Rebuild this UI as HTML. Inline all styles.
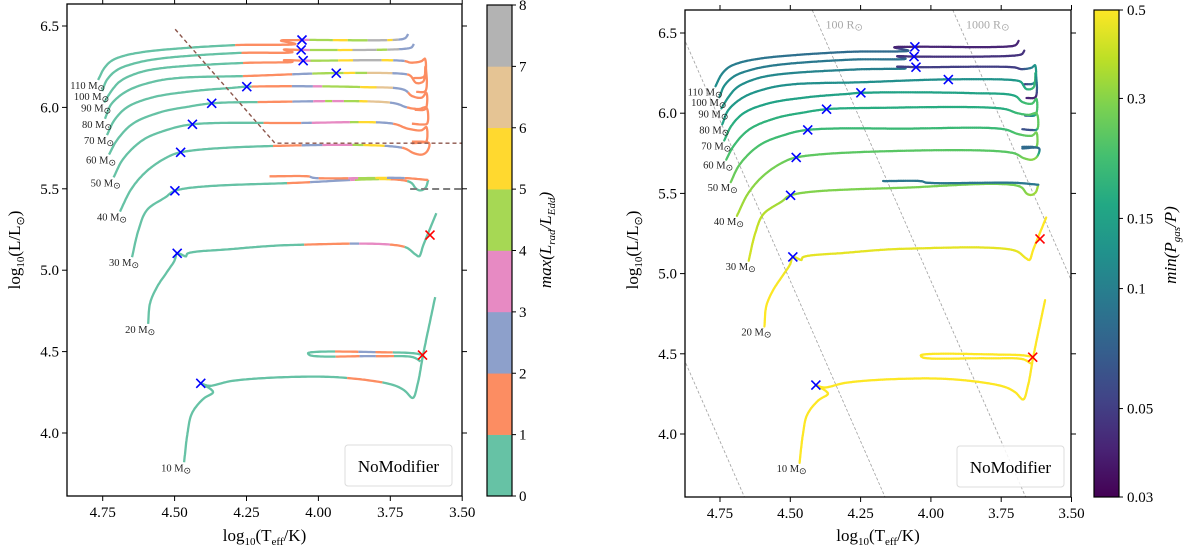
<!DOCTYPE html>
<html><head><meta charset="utf-8"><style>
html,body{margin:0;padding:0;background:#fff;width:1200px;height:552px;overflow:hidden;}
svg{display:block;font-family:"Liberation Serif","DejaVu Serif",serif;}
</style></head><body>
<svg id="fig" width="1200" height="552" viewBox="0 0 1200 552" xmlns="http://www.w3.org/2000/svg">
<defs>
<clipPath id="clipL"><rect x="67" y="4" width="395" height="492"/></clipPath>
<clipPath id="clipR"><rect x="685" y="10" width="386" height="487"/></clipPath>
<linearGradient id="viridisGrad" x1="0" y1="1" x2="0" y2="0"></linearGradient>
</defs>
<g id="left-panel"></g>
<g id="right-panel"></g>
</svg>
<script>
// ---------- data ----------
const masses = [110,100,90,80,70,60,50,40,30,20,10];
const trackM110 = [[4.766,6.168],[4.745,6.24],[4.72,6.285],[4.68,6.315],[4.61,6.34],[4.50,6.36],[4.283,6.383],[4.08,6.39],[4.13,6.41],[4.057,6.414],[3.706,6.42],[3.695,6.43],[3.688,6.451]];
const trackM100 = [[4.752,6.10],[4.735,6.17],[4.70,6.23],[4.64,6.27],[4.55,6.30],[4.283,6.334],[4.09,6.34],[4.12,6.355],[4.06,6.353],[3.70,6.36],[3.675,6.37],[3.668,6.39]];
const trackM90 = [[4.745,6.03],[4.72,6.1],[4.69,6.16],[4.63,6.21],[4.55,6.24],[4.262,6.273],[4.09,6.28],[4.12,6.29],[4.053,6.287],[3.70,6.285],[3.68,6.275],[3.64,6.285],[3.63,6.30],[3.632,6.19],[3.67,6.18]];
const trackM80 = [[4.742,5.93],[4.72,6.02],[4.666,6.10],[4.58,6.155],[4.492,6.18],[4.248,6.193],[3.935,6.211],[3.70,6.205],[3.68,6.195],[3.66,6.15],[3.635,6.16],[3.628,6.25],[3.628,6.10],[3.66,6.095]];
const trackM70 = [[4.735,5.83],[4.71,5.92],[4.666,6.0],[4.58,6.06],[4.436,6.10],[4.30,6.12],[4.249,6.127],[3.855,6.125],[3.70,6.107],[3.675,6.07],[3.64,6.06],[3.625,6.09],[3.628,5.99],[3.665,5.985]];
const trackM60 = [[4.728,5.71],[4.70,5.80],[4.645,5.90],[4.55,5.97],[4.45,6.005],[4.371,6.025],[4.203,6.033],[3.74,6.027],[3.692,6.0],[3.65,5.99],[3.625,6.00],[3.622,5.90],[3.64,5.895],[3.675,5.90]];
const trackM50 = [[4.712,5.57],[4.68,5.68],[4.61,5.80],[4.52,5.865],[4.438,5.896],[4.088,5.904],[3.74,5.90],[3.69,5.87],[3.64,5.86],[3.625,5.88],[3.625,5.79],[3.64,5.79],[3.675,5.79]];
const trackM40 = [[4.69,5.36],[4.65,5.50],[4.596,5.61],[4.53,5.69],[4.479,5.724],[4.158,5.763],[3.706,5.751],[3.67,5.72],[3.64,5.71],[3.622,5.73],[3.615,5.78],[3.675,5.78]];
const trackM30 = [[4.648,5.08],[4.625,5.25],[4.596,5.37],[4.53,5.45],[4.499,5.488],[4.088,5.536],[3.682,5.542],[3.66,5.50],[3.645,5.49],[3.628,5.505],[3.618,5.554]];
const trackM30loop = [[3.618,5.554],[3.70,5.566],[4.02,5.568],[4.03,5.575],[4.17,5.577]];
const trackM20 = [[4.592,4.67],[4.585,4.80],[4.56,4.90],[4.53,4.98],[4.50,5.06],[4.491,5.104],[4.46,5.085],[4.457,5.10],[4.30,5.13],[4.088,5.155],[3.70,5.143],[3.665,5.10],[3.65,5.085],[3.636,5.15],[3.59,5.35]];
const trackM10 = [[4.467,3.82],[4.455,4.0],[4.44,4.12],[4.40,4.21],[4.366,4.25],[4.375,4.27],[4.409,4.305],[4.38,4.29],[4.30,4.32],[4.10,4.344],[3.914,4.34],[3.74,4.295],[3.70,4.26],[3.672,4.215],[3.655,4.30],[3.636,4.48],[3.594,4.835]];
const trackM10loop = [[3.636,4.48],[3.67,4.49],[3.75,4.495],[4.036,4.49],[4.03,4.478],[3.80,4.472],[3.67,4.465],[3.645,4.44]];

// left colour: max(Lrad/LEdd) category bands along logTeff [tHigh, tLow, category]
const lradM110 = [[4.29,4.06,1],[4.06,4.03,3],[4.03,3.95,4],[3.95,3.90,5],[3.90,3.83,4],[3.83,3.76,7],[3.76,3.74,5],[3.74,3.72,7],[3.72,3.5,2]];
const lradM100 = [[4.27,4.06,1],[4.06,4.03,3],[4.03,3.93,4],[3.93,3.88,5],[3.88,3.80,7],[3.80,3.76,4],[3.76,3.72,7],[3.72,3.5,2]];
const lradM90 = [[4.26,4.06,1],[4.06,4.03,3],[4.03,3.93,4],[3.93,3.88,5],[3.88,3.78,7],[3.78,3.74,5],[3.74,3.70,2],[3.70,3.5,1]];
const lradM80 = [[4.26,4.09,1],[4.09,4.02,2],[4.02,3.91,4],[3.91,3.87,5],[3.87,3.83,4],[3.83,3.74,6],[3.74,3.69,2],[3.69,3.5,1]];
const lradM70 = [[4.23,4.09,1],[4.09,4.02,2],[4.02,3.99,3],[3.99,3.855,4],[3.855,3.80,5],[3.80,3.74,6],[3.74,3.69,2],[3.69,3.5,1]];
const lradM60 = [[4.21,4.09,1],[4.09,4.02,2],[4.02,3.98,3],[3.98,3.95,4],[3.95,3.91,3],[3.91,3.855,4],[3.855,3.83,5],[3.83,3.75,6],[3.75,3.69,2],[3.69,3.5,1]];
const lradM50 = [[4.19,4.06,1],[4.06,4.02,2],[4.02,3.89,3],[3.89,3.86,4],[3.86,3.80,5],[3.80,3.74,2],[3.74,3.5,1]];
const lradM40 = [[4.157,4.06,1],[4.06,3.99,2],[3.99,3.88,3],[3.88,3.84,4],[3.84,3.77,5],[3.77,3.71,2],[3.71,3.5,1]];
const lradM30 = [[4.11,4.03,1],[4.03,3.89,2],[3.89,3.87,3],[3.87,3.79,4],[3.79,3.75,5],[3.75,3.69,1]];
const lradM30loop = [[4.17,4.03,1],[4.03,4.0,2],[4.0,3.90,1],[3.90,3.86,3],[3.86,3.80,4],[3.80,3.76,5],[3.76,3.70,2],[3.70,3.5,1]];
const lradM20 = [[4.05,3.89,1],[3.89,3.86,2],[3.86,3.75,3],[3.75,3.70,1]];
const lradM10 = [[3.897,3.775,1]];
const lradM10loop = [[3.94,3.86,1],[3.86,3.80,2],[3.80,3.74,1]];

// right colour: min(Pgas/P) at each vertex
const pgasM110 = [.12,.11,.1,.095,.09,.085,.08,.08,.04,.04,.04,.04,.04];
const pgasM100 = [.13,.12,.11,.1,.095,.09,.085,.045,.045,.045,.045,.045];
const pgasM90 = [.14,.13,.12,.115,.11,.1,.1,.05,.05,.05,.05,.1,.13,.15,.045];
const pgasM80 = [.15,.14,.13,.125,.12,.12,.12,.13,.15,.17,.2,.2,.04,.04];
const pgasM70 = [.19,.18,.16,.15,.15,.15,.15,.15,.16,.2,.22,.22,.22,.06];
const pgasM60 = [.23,.21,.19,.18,.17,.17,.17,.17,.2,.23,.25,.25,.06,.06];
const pgasM50 = [.27,.25,.22,.2,.2,.2,.2,.23,.26,.28,.28,.08,.08];
const pgasM40 = [.35,.32,.29,.27,.25,.24,.24,.27,.3,.3,.08,.08];
const pgasM30 = [.42,.4,.37,.33,.3,.28,.28,.3,.32,.33,.33];
const pgasM30loop = [.09,.09,.09,.09,.09];
const pgasM20 = [.5,.5,.5,.48,.46,.45,.45,.45,.45,.45,.45,.47,.5,.5,.5];
const pgasM10 = [.5,.5,.5,.5,.5,.5,.5,.5,.5,.5,.5,.5,.5,.5,.5,.5,.5];
const pgasM10loop = [.5,.5,.5,.5,.5,.5,.5,.5];

const blueMarkT = [4.057,4.06,4.053,3.938,4.249,4.371,4.438,4.479,4.499,4.491,4.409];
const blueMarkL = [6.414,6.353,6.287,6.21,6.127,6.025,5.896,5.724,5.488,5.104,4.305];
const redMarkT = [3.612,3.638];
const redMarkL = [5.216,4.479];

const radiusValues = [1,10,100,1000];
const radiusLabels = ["", "", "100 R", "1000 R"];
const xTickVals = [4.75,4.50,4.25,4.00,3.75,3.50];
const xTickLabels = ["4.75","4.50","4.25","4.00","3.75","3.50"];
const yTickVals = [4.0,4.5,5.0,5.5,6.0,6.5];
const yTickLabels = ["4.0","4.5","5.0","5.5","6.0","6.5"];
const cbLeftTicks = [0,1,2,3,4,5,6,7,8];
const cbRightTicks = [0.5,0.3,0.15,0.1,0.05,0.03];
const cbRightLabels = ["0.5","0.3","0.15","0.1","0.05","0.03"];
const hdCut = [[4.498,6.48],[4.151,5.78],[3.45,5.78]];
const greyCut = [[3.681,5.499],[3.45,5.499]];

// ---------- rendering ----------
const set2 = ["#66c2a5","#fc8d62","#8da0cb","#e78ac3","#a6d854","#ffd92f","#e5c494","#b3b3b3"];
const vir = ["#440154","#482475","#414487","#355f8d","#2a788e","#21918c","#22a884","#44bf70","#7ad151","#bddf26","#fde725"];
function hex(c){return [parseInt(c.slice(1,3),16),parseInt(c.slice(3,5),16),parseInt(c.slice(5,7),16)];}
function viridis(f){f=Math.max(0,Math.min(1,f));const p=f*10,i=Math.min(9,Math.floor(p)),r=p-i;const a=hex(vir[i]),b=hex(vir[i+1]);return "rgb("+a.map((v,k)=>Math.round(v+(b[k]-v)*r)).join(",")+")";}
const PMIN=0.03,PMAX=0.5;
function pfrac(p){return Math.log(p/PMIN)/Math.log(PMAX/PMIN);}

const NS="http://www.w3.org/2000/svg";
function el(tag,attrs,parent){const e=document.createElementNS(NS,tag);for(const k in attrs)e.setAttribute(k,attrs[k]);if(parent)parent.appendChild(e);return e;}

const panels = {
  L:{x:t=>102.7+(4.75-t)*287.6, ix:x=>4.75-(x-102.7)/287.6, y:v=>433-(v-4)*162.8, box:[67,4,462,496], cb:[487,5,512,496], g:document.getElementById('left-panel'), clip:'clipL'},
  R:{x:t=>720+(4.75-t)*281.2, ix:x=>4.75-(x-720)/281.2, y:v=>434-(v-4)*160.4, box:[685,10,1071,497], cb:[1094,10,1119,497], g:document.getElementById('right-panel'), clip:'clipR'}
};
const tracks = [trackM110,trackM100,trackM90,trackM80,trackM70,trackM60,trackM50,trackM40,trackM30,trackM20,trackM10,trackM30loop,trackM10loop];
const lradBands = [lradM110,lradM100,lradM90,lradM80,lradM70,lradM60,lradM50,lradM40,lradM30,lradM20,lradM10,lradM30loop,lradM10loop];
const pgasVals = [pgasM110,pgasM100,pgasM90,pgasM80,pgasM70,pgasM60,pgasM50,pgasM40,pgasM30,pgasM20,pgasM10,pgasM30loop,pgasM10loop];

function bandCat(bands,t){for(const b of bands){if(t<=b[0]&&t>b[1])return b[2];}return 0;}

// centripetal Catmull-Rom point on segment p1-p2
function crPoint(p0,p1,p2,p3,u){
  const d=(a,b)=>Math.max(1e-4,Math.pow(Math.hypot(b[0]-a[0],b[1]-a[1]),0.5));
  const t0=0,t1=t0+d(p0,p1),t2=t1+d(p1,p2),t3=t2+d(p2,p3);
  const t=t1+(t2-t1)*u;
  const L=(a,b,ta,tb)=>[(tb-t)/(tb-ta)*a[0]+(t-ta)/(tb-ta)*b[0],(tb-t)/(tb-ta)*a[1]+(t-ta)/(tb-ta)*b[1]];
  const A1=L(p0,p1,t0,t1),A2=L(p1,p2,t1,t2),A3=L(p2,p3,t2,t3);
  const B1=L(A1,A2,t0,t2),B2=L(A2,A3,t1,t3);
  return L(B1,B2,t1,t2);
}

function drawPanel(key){
  const P=panels[key], g=P.g;
  const plot=el('g',{'clip-path':'url(#'+P.clip+')'},g);
  
  
  if(key==='R'){
    radiusValues.forEach((R,i)=>{
      const c=2*Math.log10(R)-4*Math.log10(5772);
      const t1=4.95,t2=3.4;
      const ln=el('line',{x1:P.x(t1),y1:P.y(4*t1+c),x2:P.x(t2),y2:P.y(4*t2+c),stroke:'#a0a0a0','stroke-width':0.8,'stroke-dasharray':'3,2'},plot);
      
      
    });
  }
  tracks.forEach((pts,ti)=>{
    const grp=el('g',{},plot);
    
    
    const px=pts.map(p=>[P.x(p[0]),P.y(p[1])]);
    const N=px.length;
    let cur=null,curCat=-1;
    for(let i=0;i<N-1;i++){
      const p1=px[i],p2=px[i+1];
      const p0=i>0?px[i-1]:[2*p1[0]-p2[0],2*p1[1]-p2[1]];
      const p3=i<N-2?px[i+2]:[2*p2[0]-p1[0],2*p2[1]-p1[1]];
      const n=Math.max(2,Math.ceil(Math.hypot(p2[0]-p1[0],p2[1]-p1[1])/2));
      let prev=p1;
      for(let k=1;k<=n;k++){
        const u=k/n, um=(k-0.5)/n;
        const q=k===n?p2:crPoint(p0,p1,p2,p3,u);
        const xm=(prev[0]+q[0])/2;
        if(key==='L'){
          const cat=bandCat(lradBands[ti],P.ix(xm));
          if(cat!==curCat){
            cur=el('polyline',{fill:'none',stroke:set2[cat],'stroke-width':2.3,'stroke-linejoin':'round','stroke-linecap':'butt',points:prev[0].toFixed(1)+','+prev[1].toFixed(1)},grp);
            curCat=cat;
          }
          cur.setAttribute('points',cur.getAttribute('points')+' '+q[0].toFixed(1)+','+q[1].toFixed(1));
        } else {
          const pv=pgasVals[ti];
          const lp=Math.log(pv[i])+(Math.log(pv[i+1])-Math.log(pv[i]))*um;
          el('line',{x1:prev[0].toFixed(1),y1:prev[1].toFixed(1),x2:q[0].toFixed(1),y2:q[1].toFixed(1),stroke:viridis(pfrac(Math.exp(lp))),'stroke-width':2.2,'stroke-linecap':'round'},grp);
        }
        prev=q;
      }
    }
  });
  if(key==='L'){
    const d1=el('polyline',{fill:'none',stroke:'#8c564b','stroke-width':1.4,'stroke-dasharray':'4,3',points:hdCut.map(p=>P.x(p[0])+','+P.y(p[1])).join(' ')},plot);
    
    
    const d2=el('polyline',{fill:'none',stroke:'#7f7f7f','stroke-width':2,'stroke-dasharray':'7,4',points:greyCut.map(p=>P.x(p[0])+','+P.y(p[1])).join(' ')},plot);
    
    
  }
  function cross(t,v,color,name){
    const cx=P.x(t),cy=P.y(v),s=4.5;
    const m=el('path',{d:`M${cx-s},${cy-s}L${cx+s},${cy+s}M${cx-s},${cy+s}L${cx+s},${cy-s}`,stroke:color,'stroke-width':1.6,fill:'none'},plot);
    
    
  }
  blueMarkT.forEach((t,i)=>cross(t,blueMarkL[i],'#0000ff','tams-marker'));
  redMarkT.forEach((t,i)=>cross(t,redMarkL[i],'#ff0000','rsg-marker'));
  masses.forEach((m,i)=>{
    const s=tracks[i][0];
    const tx=el('text',{x:P.x(s[0])+7,y:P.y(s[1])+9,'font-size':10.5,'text-anchor':'end',fill:'#222'},g);
    
    
    tx.textContent=m+' M';
    const sun=el('tspan',{'font-size':9,dy:2,'font-family':'DejaVu Sans'},tx);
    sun.textContent='⊙';
  });
  if(key==='R'){
    [2,3].forEach(i=>{
      const R=radiusValues[i];
      const c=2*Math.log10(R)-4*Math.log10(5772);
      const vLab=6.54, tLab=(vLab-c)/4;
      const tx=el('text',{x:P.x(tLab)+6,y:P.y(vLab)+2,'font-size':12,fill:'#a8a8a8'},g);
      
      
      tx.textContent=radiusLabels[i];
      const sun=el('tspan',{'font-size':10,dy:2,'font-family':'DejaVu Sans'},tx);
      sun.textContent='⊙';
    });
  }
  const [bx0,by0,bx1,by1]=P.box;
  const fr=el('rect',{x:bx0,y:by0,width:bx1-bx0,height:by1-by0,fill:'none',stroke:'#000','stroke-width':1.3},g);
  
  
  xTickVals.forEach((t,i)=>{
    const x=P.x(t);
    el('line',{x1:x,y1:by1,x2:x,y2:by1+5,stroke:'#000','stroke-width':1},g);
    el('line',{x1:x,y1:by0,x2:x,y2:by0-5,stroke:'#000','stroke-width':1},g);
    const tx=el('text',{x:x,y:by1+21,'font-size':15,'text-anchor':'middle'},g);
    
    
    tx.textContent=xTickLabels[i];
  });
  yTickVals.forEach((v,i)=>{
    const y=P.y(v);
    el('line',{x1:bx0,y1:y,x2:bx0-5,y2:y,stroke:'#000','stroke-width':1},g);
    el('line',{x1:bx1,y1:y,x2:bx1+5,y2:y,stroke:'#000','stroke-width':1},g);
    const tx=el('text',{x:bx0-8,y:y+5,'font-size':15,'text-anchor':'end'},g);
    
    
    tx.textContent=yTickLabels[i];
  });
  const cxm=(bx0+bx1)/2;
  const xl=el('text',{x:cxm,y:541,'font-size':17,'text-anchor':'middle'},g);
  
  
  xl.innerHTML='log<tspan font-size="11" dy="4">10</tspan><tspan dy="-4">(T</tspan><tspan font-size="11" dy="4">eff</tspan><tspan dy="-4">/K)</tspan>';
  const ylx=(key==='L')?20:638, cym=250;
  const yl=el('text',{x:ylx,y:cym,'font-size':17,'text-anchor':'middle',transform:`rotate(-90 ${ylx} ${cym})`},g);
  
  
  yl.innerHTML='log<tspan font-size="11" dy="4">10</tspan><tspan dy="-4">(L/L</tspan><tspan font-size="11" dy="4" font-family="DejaVu Sans">⊙</tspan><tspan dy="-4">)</tspan>';
  const lx=(key==='L')?345:957, ly=(key==='L')?445:446;
  const lg=el('g',{},g);
  
  
  el('rect',{x:lx,y:ly,width:107,height:41,rx:3,fill:'#fff','fill-opacity':0.85,stroke:'#dcdcdc','stroke-width':1},lg);
  const lt=el('text',{x:lx+53.5,y:ly+27,'font-size':17,'text-anchor':'middle'},lg);
  lt.textContent='NoModifier';
  const [cx0,cy0,cx1,cy1]=P.cb;
  const cbg=el('g',{},g);
  
  
  if(key==='L'){
    const h=(cy1-cy0)/8;
    for(let k=0;k<8;k++){
      el('rect',{x:cx0,y:cy1-(k+1)*h,width:cx1-cx0,height:h+0.3,fill:set2[k]},cbg);
    }
    cbLeftTicks.forEach(v=>{
      const y=cy1-v*h;
      el('line',{x1:cx1,y1:y,x2:cx1+4,y2:y,stroke:'#000','stroke-width':1},cbg);
      const tx=el('text',{x:cx1+7,y:y+5,'font-size':15},cbg);
      tx.textContent=String(v);
    });
    const lab=el('text',{x:551,y:240,'font-size':17,'text-anchor':'middle','font-style':'italic',transform:'rotate(-90 551 240)'},cbg);
    
    
    lab.innerHTML='max(L<tspan font-size="11" dy="4">rad</tspan><tspan dy="-4">/L</tspan><tspan font-size="11" dy="4">Edd</tspan><tspan dy="-4">)</tspan>';
  } else {
    const gr=document.getElementById('viridisGrad');
    vir.forEach((c,k)=>el('stop',{offset:(k*10)+'%','stop-color':c},gr));
    el('rect',{x:cx0,y:cy0,width:cx1-cx0,height:cy1-cy0,fill:'url(#viridisGrad)'},cbg);
    cbRightTicks.forEach((p,i)=>{
      const y=cy1-pfrac(p)*(cy1-cy0);
      el('line',{x1:cx1,y1:y,x2:cx1+4,y2:y,stroke:'#000','stroke-width':1},cbg);
      const tx=el('text',{x:cx1+8,y:y+5,'font-size':15},cbg);
      tx.textContent=cbRightLabels[i];
    });
    const lab=el('text',{x:1176,y:245,'font-size':17,'text-anchor':'middle','font-style':'italic',transform:'rotate(-90 1176 245)'},cbg);
    
    
    lab.innerHTML='min(P<tspan font-size="11" dy="4">gas</tspan><tspan dy="-4">/P)</tspan>';
  }
  el('rect',{x:cx0,y:cy0,width:cx1-cx0,height:cy1-cy0,fill:'none',stroke:'#000','stroke-width':1.2},cbg);
}
drawPanel('L');
drawPanel('R');
</script>
</body></html>
